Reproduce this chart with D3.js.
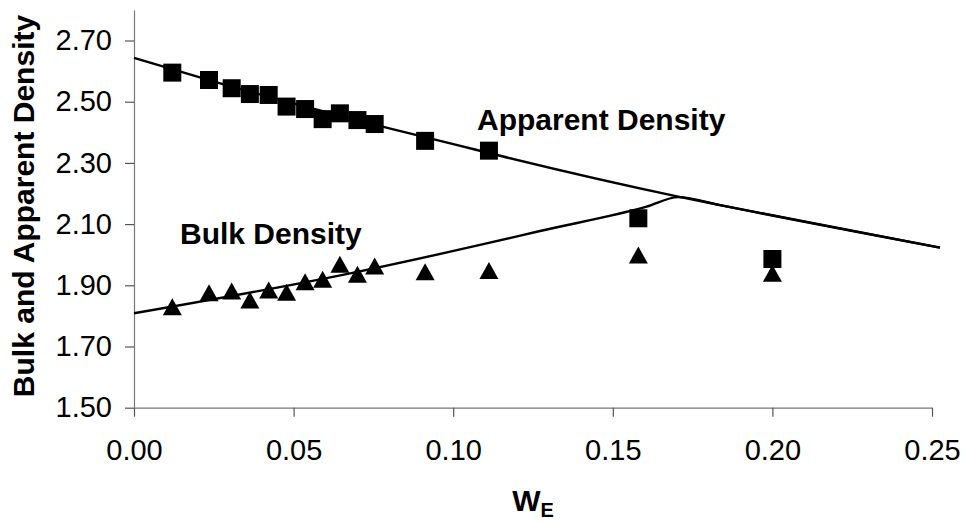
<!DOCTYPE html>
<html>
<head>
<meta charset="utf-8">
<script src="https://cdn.jsdelivr.net/npm/d3@7"></script>
<style>
  body { margin: 0; background: #fff; }
  #chart { width: 966px; height: 523px; }
  text { font-family: Arial, "Liberation Sans", sans-serif; fill: #000; }
  .tick text { font-size: 29px; }
  .label { font-size: 30px; font-weight: bold; }
</style>
</head>
<body>
<div id="chart"></div>
<script>
/* data */
const weX = [0.012, 0.0235, 0.0306, 0.0363, 0.0422, 0.0478, 0.0536, 0.0591, 0.0645, 0.070, 0.0754, 0.0912, 0.1112, 0.158, 0.200];
const apparent = [2.595, 2.571, 2.544, 2.525, 2.522, 2.484, 2.476, 2.443, 2.462, 2.440, 2.427, 2.372, 2.340, 2.119, 1.986];
const bulk = [1.830, 1.876, 1.881, 1.852, 1.885, 1.877, 1.912, 1.920, 1.969, 1.936, 1.963, 1.944, 1.948, 1.999, 1.939];

// model curves
const apparentFitX = [0, 0.027, 0.080, 0.101, 0.115, 0.1705, 0.1836, 0.2525];
const apparentFitY = [2.643, 2.560, 2.413, 2.359, 2.3225, 2.19, 2.162, 2.023];
const bulkFitX = [0, 0.0677, 0.1084, 0.1272, 0.1606, 0.1705, 0.1836, 0.2525];
const bulkFitY = [1.8085, 1.939, 2.032, 2.0775, 2.157, 2.188, 2.162, 2.023];

const xTicks = [0, 0.05, 0.10, 0.15, 0.20, 0.25];
const yTicks = [1.5, 1.7, 1.9, 2.1, 2.3, 2.5, 2.7];

const width = 966, height = 523;
const margin = {top: 9.9, left: 134, right: 34, bottom: 115.3};

const svg = d3.select("#chart").append("svg")
    .attr("width", width)
    .attr("height", height);

const xScale = d3.scaleLinear()
    .domain([0, 0.25])
    .range([margin.left, width - margin.right]);

const yScale = d3.scaleLinear()
    .domain([1.5, 2.8])
    .range([height - margin.bottom, margin.top]);

/* axes */
const xAxis = svg.append("g")
    .attr("transform", `translate(0,${height - margin.bottom})`)
    .call(d3.axisBottom(xScale).tickValues(xTicks).tickFormat(d3.format(".2f"))
        .tickSizeInner(9).tickSizeOuter(0));

const yAxis = svg.append("g")
    .attr("transform", `translate(${margin.left},0)`)
    .call(d3.axisLeft(yScale).tickValues(yTicks).tickFormat(d3.format(".2f"))
        .tickSizeInner(9).tickSizeOuter(0).tickPadding(13));

svg.selectAll(".domain").attr("stroke", "#777").attr("stroke-width", 1.2);
svg.selectAll(".tick line").attr("stroke", "#555").attr("stroke-width", 1.2);
xAxis.selectAll(".tick text").attr("dy", "0.71em").attr("y", 32);

/* fitted lines */
function fitLine(xs, ys) {
    return d3.line()
        .x(function(d, i) { return xScale(xs[i]); })
        .y(function(d, i) { return yScale(ys[i]); })
        .curve(d3.curveMonotoneX)(xs);
}

svg.append("path")
    .attr("d", fitLine(apparentFitX, apparentFitY))
    .attr("fill", "none").attr("stroke", "#000").attr("stroke-width", 2.4);

svg.append("path")
    .attr("d", fitLine(bulkFitX, bulkFitY))
    .attr("fill", "none").attr("stroke", "#000").attr("stroke-width", 2.4);

/* markers */
const triangle = {
    draw(ctx, size) {
        const w = 19, h = 17;
        ctx.moveTo(0, -h / 2);
        ctx.lineTo(w / 2, h / 2);
        ctx.lineTo(-w / 2, h / 2);
        ctx.closePath();
    }
};

svg.selectAll(".bulk")
    .data(weX)
    .enter()
    .append("path")
        .attr("class", "bulk")
        .attr("d", d3.symbol().type(triangle))
        .attr("transform", function(d, i) { return `translate(${xScale(d)},${yScale(bulk[i])})`; })
        .attr("fill", "#000");

svg.selectAll(".apparent")
    .data(weX)
    .enter()
    .append("path")
        .attr("class", "apparent")
        .attr("d", d3.symbol().type(d3.symbolSquare).size(18 * 18))
        .attr("transform", function(d, i) { return `translate(${xScale(d)},${yScale(apparent[i])})`; })
        .attr("fill", "#000");

/* labels */
svg.append("text")
    .attr("class", "label")
    .attr("x", 477)
    .attr("y", 130)
    .text("Apparent Density");

svg.append("text")
    .attr("class", "label")
    .attr("x", 180)
    .attr("y", 244)
    .text("Bulk Density");

svg.append("text")
    .attr("class", "label")
    .attr("transform", "rotate(-90)")
    .attr("x", -206)
    .attr("y", 33.5)
    .attr("text-anchor", "middle")
    .text("Bulk and Apparent Density");

const xTitle = svg.append("text")
    .attr("class", "label")
    .attr("x", (margin.left + width - margin.right) / 2)
    .attr("y", 511)
    .attr("text-anchor", "middle");
xTitle.append("tspan").text("W");
xTitle.append("tspan").attr("dy", 6).style("font-size", "20px").text("E");
</script>
</body>
</html>
